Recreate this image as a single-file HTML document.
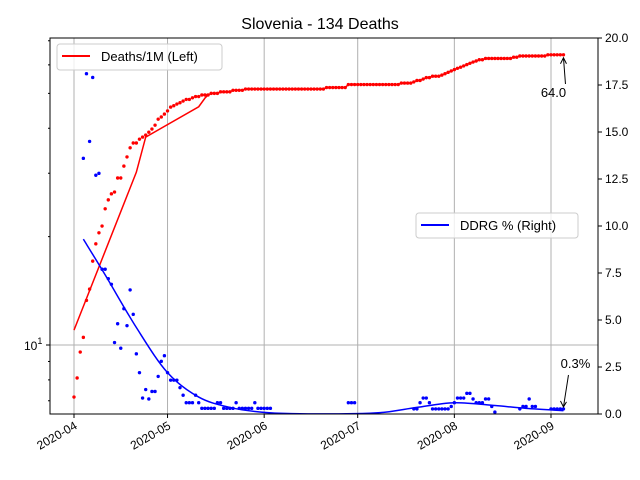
<!DOCTYPE html>
<html><head><meta charset="utf-8"><style>
body{margin:0;background:#fff}
svg{display:block;font-family:"Liberation Sans","DejaVu Sans",sans-serif}
</style></head><body>
<svg id="chart" width="640" height="480" viewBox="0 0 640 480">
<defs><clipPath id="pc"><rect x="50" y="38" width="548" height="376"/></clipPath></defs>
<rect x="0" y="0" width="640" height="480" fill="#fff"/>
<text x="320" y="29" text-anchor="middle" font-size="16" fill="#000">Slovenia - 134 Deaths</text>
<g id="grid"></g>
<g id="marks" clip-path="url(#pc)"></g>
<g id="axes"></g>
<rect x="50" y="38" width="548" height="376" fill="none" stroke="#000" stroke-width="1"/>
<g>
<rect x="57" y="44" width="165" height="26" rx="3" fill="#fff" fill-opacity="0.8" stroke="#ccc"/>
<line x1="62" y1="56" x2="90" y2="56" stroke="red" stroke-width="2"/>
<text x="101" y="61" font-size="13">Deaths/1M (Left)</text>
</g>
<g>
<rect x="416" y="213" width="162" height="25" rx="3" fill="#fff" fill-opacity="0.8" stroke="#ccc"/>
<line x1="421" y1="225" x2="449" y2="225" stroke="blue" stroke-width="2"/>
<text x="460" y="230" font-size="13">DDRG % (Right)</text>
</g>
<g id="annot"></g>
</svg>
<script>
const monthLabels=["2020-04","2020-05","2020-06","2020-07","2020-08","2020-09"];
const monthDays=[0,30,61,91,122,153];
const rightTicks=[0,2.5,5,7.5,10,12.5,15,17.5,20];
const deathsPerM=[7.17,8.1,9.56,10.5,13.3,14.3,17.1,19.1,20.5,21.4,
23.9,25.3,26.3,26.6,29.1,29.1,31.4,33.3,35.3,36.4,
36.4,37.3,37.8,38.3,39.0,39.8,40.8,42.4,43.0,43.8,
44.7,45.8,46.2,46.7,47.1,47.6,48.1,48.1,48.6,49.0,
49.0,49.5,49.5,49.5,50.0,50.0,50.0,50.5,50.5,50.5,
50.5,51.0,51.0,51.0,51.0,51.4,51.4,51.4,51.4,51.4,
51.4,51.4,51.4,51.4,51.4,51.4,51.4,51.4,51.4,51.4,
51.4,51.4,51.4,51.4,51.4,51.4,51.4,51.4,51.4,51.4,
51.4,51.9,51.9,51.9,51.9,51.9,51.9,51.9,52.9,52.9,
52.9,52.9,52.9,52.9,52.9,52.9,52.9,52.9,52.9,52.9,
52.9,52.9,52.9,52.9,52.9,53.4,53.4,53.4,53.4,53.8,
54.3,54.3,54.8,55.3,55.3,55.8,55.8,55.8,56.2,56.7,
57.2,57.7,58.2,58.7,59.1,59.6,60.1,60.6,61.1,61.5,
62.0,62.0,62.5,62.5,62.5,62.5,62.5,62.5,62.5,62.5,
62.5,63.0,63.0,63.5,63.5,63.5,63.5,63.5,63.5,63.5,
63.5,63.5,64.0,64.0,64.0,64.0,64.0,64.0];
const deathLineDays=[0,20,23,40,42];
const deathLineVals=[11.0,30.2,37.8,45.9,48.5];
const ddrgStartDay=3;
const ddrgVals=[13.6,18.1,14.5,17.9,12.7,12.8,
7.7,7.7,7.2,6.9,3.8,4.8,3.5,5.6,4.7,6.6,5.3,3.2,
2.2,0.85,1.3,0.8,1.2,1.2,2.0,2.8,3.1,2.2,1.8,
1.8,1.8,1.4,1.0,0.6,0.6,0.6,1.0,0.6,
0.3,0.3,0.3,0.3,0.3,0.6,0.6,0.3,0.3,0.3,
0.3,0.6,0.3,0.3,0.3,0.3,0.3,0.6,0.3,0.3,
0.3,0.3,0.3,0,0,0,0,0,0,0,
0,0,0,0,0,0,0,0,0,0,0,0,0,0,0,0,0,
0.6,0.6,0.6,
0,0,0,0,0,0,0,0,0,0,0,0,0,0,0,0,0,0,
0.27,0.27,0.6,0.85,0.85,0.6,
0.27,0.27,0.27,0.27,0.27,0.27,0.4,
0.6,0.85,0.85,0.85,1.1,1.1,0.8,0.6,0.6,0.6,0.8,0.8,0.4,0.1,
0,0,0,0,0,0,0,
0.27,0.4,0.4,0.8,0.4,0.4,
0,0,0,0,0.27,
0.27,0.27,0.27,0.27];
const ddrgLineDays=[3,10,20,30,40,50,60,70,90,100,110,122,135,145,157];
const ddrgLineVals=[9.3,7.4,4.6,2.2,0.9,0.35,0.1,0.02,0.02,0.1,0.35,0.6,0.45,0.3,0.18];

const NS="http://www.w3.org/2000/svg";
const X=d=>74+d*(551-74)/153;
const YL=v=>345-(Math.log10(v)-1)*360;
const YR=v=>414-v*376/20;
function mk(tag,attrs,parent){const e=document.createElementNS(NS,tag);for(const k in attrs)e.setAttribute(k,attrs[k]);parent.appendChild(e);return e;}
const grid=document.getElementById('grid'),marks=document.getElementById('marks'),axes=document.getElementById('axes'),annot=document.getElementById('annot');

monthDays.forEach((d,i)=>{
  const g=mk('line',{x1:X(d),x2:X(d),y1:38,y2:414,stroke:'#b0b0b0','stroke-width':1},grid);
  
  
  const t=mk('line',{x1:X(d),x2:X(d),y1:414,y2:418,stroke:'#000'},axes);
  
  
  const l=mk('text',{x:X(d)+4,y:428,'font-size':12,'text-anchor':'end',transform:`rotate(-30 ${X(d)+4} 428)`},axes);
  l.textContent=monthLabels[i];
  
  
});
const hg=mk('line',{x1:50,x2:598,y1:YL(10),y2:YL(10),stroke:'#b0b0b0'},grid);


const lt=mk('line',{x1:46,x2:50,y1:YL(10),y2:YL(10),stroke:'#000'},axes);


const ll=mk('text',{x:24,y:YL(10)+5,'font-size':12},axes);
ll.innerHTML='10<tspan dy="-6" font-size="9">1</tspan>';


[7,8,9,20,30,40,50,60,70].forEach(v=>{
  const m=mk('line',{x1:48,x2:50,y1:YL(v),y2:YL(v),stroke:'#000'},axes);
  
  
});
rightTicks.forEach(v=>{
  const t=mk('line',{x1:598,x2:602,y1:YR(v),y2:YR(v),stroke:'#000'},axes);
  
  
  const l=mk('text',{x:605,y:YR(v)+4,'font-size':12},axes);
  l.textContent=v.toFixed(1);
  
  
});

let pts=deathLineDays.map((d,i)=>`${X(d)},${YL(deathLineVals[i])}`);
for(let d=deathLineDays[deathLineDays.length-1]+1;d<deathsPerM.length;d++)pts.push(`${X(d)},${YL(deathsPerM[d])}`);
const rl=mk('polyline',{points:pts.join(' '),fill:'none',stroke:'red','stroke-width':1.5},marks);


deathsPerM.forEach((v,d)=>{
  const c=mk('circle',{cx:X(d),cy:YL(v),r:1.7,fill:'red'},marks);
  
  
});
function smooth(xs,ys){let s=`M${xs[0]},${ys[0]}`;for(let i=0;i<xs.length-1;i++){const x0=xs[Math.max(i-1,0)],y0=ys[Math.max(i-1,0)],x1=xs[i],y1=ys[i],x2=xs[i+1],y2=ys[i+1],x3=xs[Math.min(i+2,xs.length-1)],y3=ys[Math.min(i+2,xs.length-1)];s+=` C${x1+(x2-x0)/6},${y1+(y2-y0)/6} ${x2-(x3-x1)/6},${y2-(y3-y1)/6} ${x2},${y2}`;}return s;}
const bl=mk('path',{d:smooth(ddrgLineDays.map(X),ddrgLineVals.map(YR)),fill:'none',stroke:'blue','stroke-width':1.5},marks);


ddrgVals.forEach((v,i)=>{
  const c=mk('circle',{cx:X(ddrgStartDay+i),cy:YR(v)+(v===0?1.5:0),r:1.7,fill:'blue'},marks);
  
  
});
const lastD=deathsPerM.length-1, lastV=deathsPerM[lastD];
const a1=mk('text',{x:X(lastD)-10,y:97,'font-size':13,'text-anchor':'middle'},annot);
a1.textContent=lastV.toFixed(1);


const ar1=mk('path',{d:`M${X(lastD)+2},84 L${X(lastD)},${YL(lastV)+3} M${X(lastD)-3},${YL(lastV)+9} L${X(lastD)},${YL(lastV)+3} L${X(lastD)+3},${YL(lastV)+9}`,fill:'none',stroke:'#000'},annot);


const lastB=ddrgVals[ddrgVals.length-1];
const a2=mk('text',{x:X(lastD)+12,y:368,'font-size':13,'text-anchor':'middle'},annot);
a2.textContent=lastB.toFixed(1)+'%';


const by=YR(lastB)-2;
const ar2=mk('path',{d:`M${X(lastD)+5},375 L${X(lastD)},${by} M${X(lastD)-3},${by-6} L${X(lastD)},${by} L${X(lastD)+3},${by-5}`,fill:'none',stroke:'#000'},annot);


</script>
</body></html>
